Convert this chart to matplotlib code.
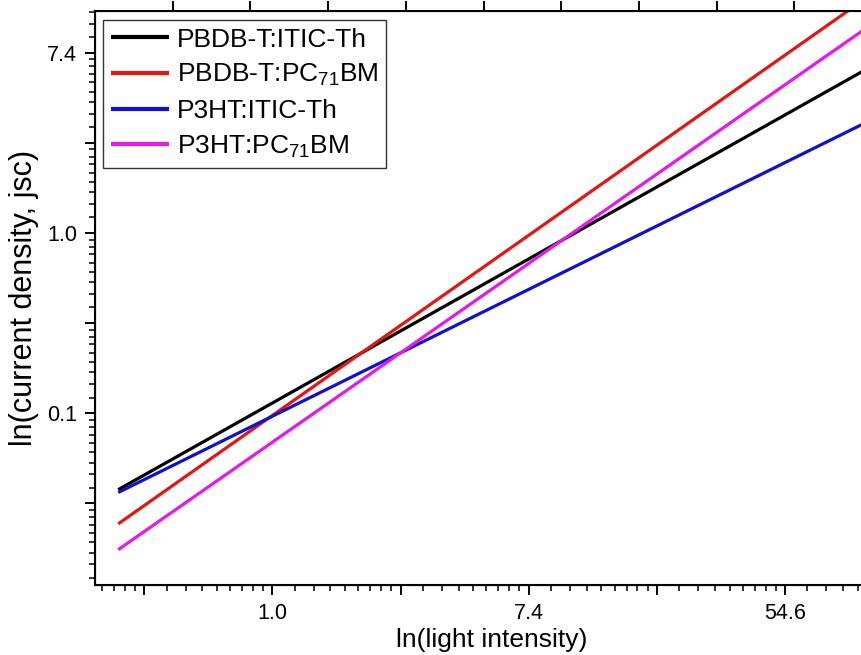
import numpy as np
import matplotlib
matplotlib.use("Agg")
import matplotlib.pyplot as plt
from matplotlib.ticker import FixedLocator, FuncFormatter, NullFormatter

plt.rcParams['font.family'] = ['Liberation Sans', 'DejaVu Sans']
plt.rcParams['mathtext.fontset'] = 'custom'
plt.rcParams['mathtext.rm'] = 'Liberation Sans'
plt.rcParams['mathtext.it'] = 'Liberation Sans:italic'

# power-law fits, start / end of each line (light intensity, jsc)
light = [0.30, 120.0]
jsc_pbdb_itic = [0.058, 6.95]
jsc_pbdb_pcbm = [0.0397, 15.8]
jsc_p3ht_itic = [0.0562, 3.80]
jsc_p3ht_pcbm = [0.0298, 11.3]

labels = ['PBDB-T:ITIC-Th', 'PBDB-T:PC$_{71}$BM', 'P3HT:ITIC-Th', 'P3HT:PC$_{71}$BM']
colors = ['#000000', '#e81414', '#1010d0', '#e818e8']

fig = plt.figure(figsize=(8.61, 6.55), dpi=100)
# axes runs past the right edge of the picture, like the cropped original
ax = fig.add_axes([95 / 861, 70 / 655, 794 / 861, 574 / 655])

series = [jsc_pbdb_itic, jsc_pbdb_pcbm, jsc_p3ht_itic, jsc_p3ht_pcbm]
for y, lab, c in zip(series, labels, colors):
    ax.plot(light, y, color=c, lw=2.3, label=lab, solid_capstyle='butt')

ax.set_xscale('log', base=np.e)
ax.set_yscale('log', base=np.e)
ax.set_xlim(np.exp(-1.385), np.exp(4.812))
ax.set_ylim(np.exp(-3.905), np.exp(2.463))


def e_ticks(k0, k1):
    major = [np.exp(k) for k in range(k0, k1 + 1)]
    minor = []
    for k in range(k0 - 1, k1 + 1):
        a, b = np.exp(k), np.exp(k + 1)
        minor += [a + j * (b - a) / 9 for j in range(1, 9)]
    return major, minor


def fmt(v, pos):
    k = int(round(np.log(v)))
    return '%.1f' % v if k % 2 == 0 else ''


for axis, (k0, k1) in [(ax.xaxis, (-2, 5)), (ax.yaxis, (-4, 3))]:
    major, minor = e_ticks(k0, k1)
    axis.set_major_locator(FixedLocator(major))
    axis.set_minor_locator(FixedLocator(minor))
    axis.set_major_formatter(FuncFormatter(fmt))
    axis.set_minor_formatter(NullFormatter())

ax.tick_params(which='major', direction='out', length=7, width=1.4, labelsize=15.5, pad=6)
ax.tick_params(which='minor', direction='out', length=4, width=1.1)
for s in ax.spines.values():
    s.set_linewidth(1.5)

ax.set_xlabel('ln(light intensity)', fontsize=19, labelpad=3)
ax.set_ylabel('ln(current density, jsc)', fontsize=22, labelpad=6)

# top axis ticks (labels are outside the picture)
ax_top = ax.twiny()
ax_top.set_xlim(0, 794 / 77.7)
ax_top.set_xticks(range(1, 11))
ax_top.tick_params(axis='x', direction='out', length=7, width=1.4, labeltop=False)

leg = ax.legend(loc='upper left', bbox_to_anchor=(0.01, 0.985), fontsize=19,
                frameon=True, fancybox=False, edgecolor='#333333', framealpha=1,
                handlelength=2.2, handletextpad=0.3, borderpad=0.3, labelspacing=0.4,
                borderaxespad=0)
leg.get_frame().set_linewidth(1.0)
for line in leg.get_lines():
    line.set_linewidth(3)

fig.savefig('out.png', dpi=100)
